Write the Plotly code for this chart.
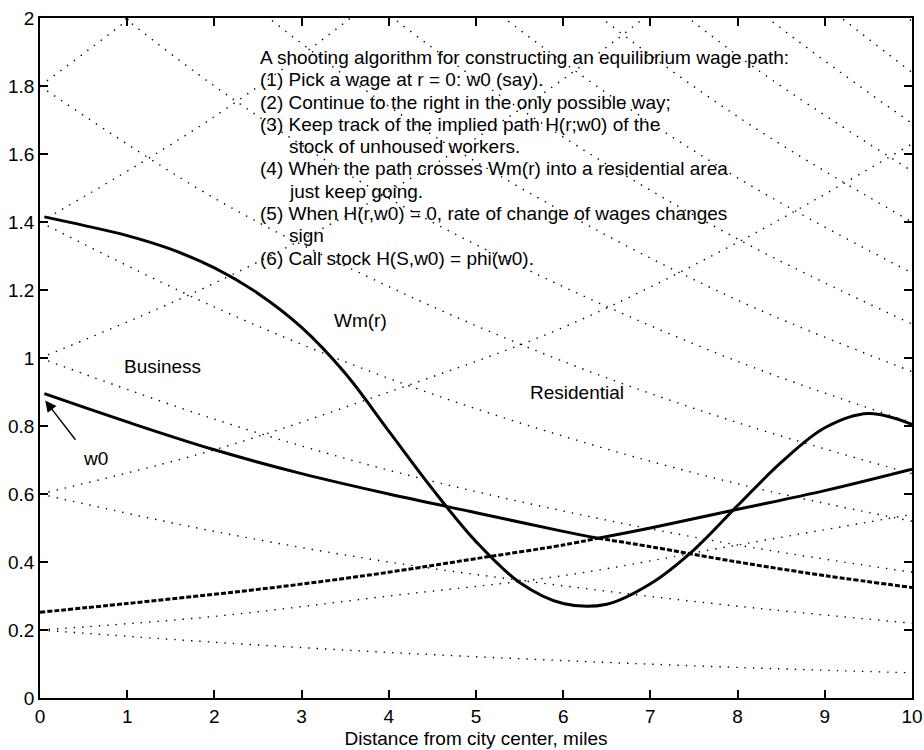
import plotly.graph_objects as go

# ---------------- data ----------------
# dotted reference curves, sampled at these distances
DOT_X = [0, 2, 4, 6, 8, 10]
DOT_FALLING = [
    [0.20, 0.164, 0.134, 0.110, 0.090, 0.074],
    [0.60, 0.49, 0.40, 0.33, 0.27, 0.22],
    [1.00, 0.82, 0.67, 0.55, 0.45, 0.37],
    [1.40, 1.15, 0.94, 0.77, 0.63, 0.52],
    [1.80, 1.47, 1.21, 0.99, 0.81, 0.66],
    [2.20, 1.80, 1.47, 1.21, 0.99, 0.81],
    [2.60, 2.13, 1.74, 1.43, 1.17, 0.96],
    [3.00, 2.46, 2.01, 1.65, 1.35, 1.10],
    [3.40, 2.78, 2.28, 1.87, 1.53, 1.25],
    [3.80, 3.11, 2.55, 2.09, 1.71, 1.40],
    [4.20, 3.44, 2.82, 2.31, 1.89, 1.55],
    [4.60, 3.77, 3.08, 2.53, 2.07, 1.69],
    [5.00, 4.09, 3.35, 2.74, 2.25, 1.84],
    [5.40, 4.42, 3.62, 2.96, 2.43, 1.99],
]
DOT_RISING = [
    [0.20, 0.24, 0.30, 0.36, 0.45, 0.54],
    [0.60, 0.73, 0.90, 1.09, 1.34, 1.63],
    [1.00, 1.22, 1.49, 1.82, 2.23, 2.72],
    [1.40, 1.71, 2.09, 2.55, 3.12, 3.81],
    [1.80, 2.20, 2.69, 3.28, 4.01, 4.89],
]

# Wm(r) curve
WM_X = [0.05, 0.5, 1.0, 1.5, 2.0, 2.5, 3.0, 3.5, 4.0, 4.5, 5.0, 5.5, 6.0,
        6.5, 7.0, 7.5, 8.0, 8.5, 9.0, 9.5, 10.0]
WM_Y = [1.415, 1.39, 1.36, 1.32, 1.265, 1.19, 1.09, 0.955, 0.785, 0.615, 0.46,
        0.34, 0.278, 0.276, 0.336, 0.436, 0.566, 0.693, 0.795, 0.837, 0.805]

# wage path starting at w0 (falling): solid up to the crossing, dashed after
PATH_A_X = [0.05, 1, 2, 3, 4, 5, 6, 6.4, 7, 8, 9, 10]
PATH_A_Y = [0.895, 0.812, 0.73, 0.66, 0.60, 0.545, 0.49, 0.47, 0.445, 0.40, 0.36, 0.325]
# rising path: dashed up to the crossing, solid after
PATH_B_X = [0, 1, 2, 3, 4, 5, 6, 6.4, 7, 8, 9, 10]
PATH_B_Y = [0.252, 0.278, 0.305, 0.335, 0.37, 0.41, 0.45, 0.47, 0.50, 0.555, 0.61, 0.673]
CROSS_INDEX = 7

X_TICKS = [0, 1, 2, 3, 4, 5, 6, 7, 8, 9, 10]
Y_TICKS = [0, 0.2, 0.4, 0.6, 0.8, 1.0, 1.2, 1.4, 1.6, 1.8, 2.0]
Y_TICK_LABELS = ["0", "0.2", "0.4", "0.6", "0.8", "1", "1.2", "1.4", "1.6", "1.8", "2"]

NOTE_LINES = [
    ("A shooting algorithm for constructing an equilibrium wage path:", False),
    ("(1) Pick a wage at r = 0: w0 (say).", False),
    ("(2) Continue to the right in the only possible way;", False),
    ("(3) Keep track of the implied path H(r;w0) of the", False),
    ("stock of unhoused workers.", True),
    ("(4) When the path crosses Wm(r) into a residential area", False),
    ("just keep going.", True),
    ("(5) When H(r,w0) = 0, rate of change of wages changes", False),
    ("sign", True),
    ("(6) Call stock H(S,w0) = phi(w0).", False),
]
NOTE_Y = [1.885, 1.818, 1.752, 1.688, 1.622, 1.556, 1.491, 1.426, 1.36, 1.294]

LABELS = [("Business", 1.405, 0.976), ("Wm(r)", 3.67, 1.11), ("Residential", 6.16, 0.898)]

FONT = "Liberation Sans, Arial, sans-serif"

# ---------------- figure ----------------
fig = go.Figure()

dot_line = dict(color="black", width=1.4, dash="1.4px,7px", shape="spline")
for ys in DOT_FALLING + DOT_RISING:
    fig.add_trace(go.Scatter(x=DOT_X, y=ys, mode="lines", line=dot_line,
                             hoverinfo="skip", showlegend=False))

fig.add_trace(go.Scatter(x=WM_X, y=WM_Y, mode="lines",
                         line=dict(color="black", width=3, shape="spline", smoothing=1.0),
                         hoverinfo="skip", showlegend=False))

solid = dict(color="black", width=3)
dashed = dict(color="black", width=3, dash="5px,2px")
k = CROSS_INDEX
fig.add_trace(go.Scatter(x=PATH_A_X[:k + 1], y=PATH_A_Y[:k + 1], mode="lines",
                         line=dict(solid, shape="spline"), hoverinfo="skip", showlegend=False))
fig.add_trace(go.Scatter(x=PATH_A_X[k:], y=PATH_A_Y[k:], mode="lines",
                         line=dict(dashed, shape="spline"), hoverinfo="skip", showlegend=False))
fig.add_trace(go.Scatter(x=PATH_B_X[:k + 1], y=PATH_B_Y[:k + 1], mode="lines",
                         line=dict(dashed, shape="spline"), hoverinfo="skip", showlegend=False))
fig.add_trace(go.Scatter(x=PATH_B_X[k:], y=PATH_B_Y[k:], mode="lines",
                         line=dict(solid, shape="spline"), hoverinfo="skip", showlegend=False))

annotations = []
for (txt, indent), y in zip(NOTE_LINES, NOTE_Y):
    annotations.append(dict(x=2.83 if indent else 2.50, y=y, xref="x", yref="y",
                            text=txt, showarrow=False, xanchor="left", yanchor="middle",
                            font=dict(family=FONT, size=19, color="black")))
for txt, x, y in LABELS:
    annotations.append(dict(x=x, y=y, xref="x", yref="y", text=txt, showarrow=False,
                            xanchor="center", yanchor="middle",
                            font=dict(family=FONT, size=19, color="black")))
# w0 label with arrow
annotations.append(dict(x=0.64, y=0.704, xref="x", yref="y", text="w0", showarrow=False,
                        xanchor="center", yanchor="middle",
                        font=dict(family=FONT, size=19, color="black")))
annotations.append(dict(x=0.06, y=0.875, ax=0.42, ay=0.755, xref="x", yref="y",
                        axref="x", ayref="y", text="", showarrow=True,
                        arrowhead=2, arrowsize=1.6, arrowwidth=1.4, arrowcolor="black"))

axis_common = dict(showline=True, linecolor="black", linewidth=1.5, mirror="ticks",
                   ticks="inside", ticklen=8, tickwidth=1.5, tickcolor="black",
                   showgrid=False, zeroline=False, automargin=False,
                   tickfont=dict(family=FONT, size=19, color="black"))

fig.update_layout(
    template="none",
    width=924, height=750,
    margin=dict(l=40, r=12, t=18, b=52),
    paper_bgcolor="white", plot_bgcolor="white",
    showlegend=False,
    annotations=annotations,
    xaxis=dict(axis_common, range=[0, 10], tickvals=X_TICKS,
               title=dict(text="Distance from city center, miles", standoff=6,
                          font=dict(family=FONT, size=19, color="black"))),
    yaxis=dict(axis_common, range=[0, 2], tickvals=Y_TICKS, ticktext=Y_TICK_LABELS),
)

fig.write_html("out.html", config={"displayModeBar": False},
               post_script="document.body.style.margin='0px';document.body.style.overflow='hidden';")
